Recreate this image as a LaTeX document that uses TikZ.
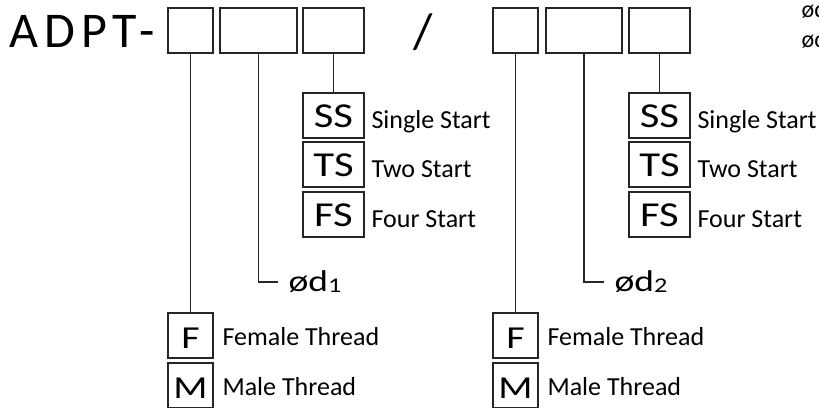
\documentclass[tikz,border=0pt]{standalone}
\usepackage{fontspec}
\setmainfont{Carlito}
\begin{document}
\begin{tikzpicture}
    [x=1pt,y=-1pt,inner sep=0pt,line width=1.1pt,
     slot/.style={draw=black!85,minimum height=45pt},
     code/.style={draw=black!85,minimum width=61pt,minimum height=45pt,text height=24pt,text depth=0pt,font=\fontsize{35}{35}\selectfont\addfontfeatures{FakeStretch=1.22}},
     kind/.style={draw=black!85,minimum width=45pt,minimum height=45pt,text height=26pt,text depth=0pt,font=\fontsize{32}{32}\selectfont\addfontfeatures{FakeStretch=1.25}},
     desc/.style={anchor=base west,font=\fontsize{26}{26}\selectfont},
     dlabel/.style={anchor=west,inner xsep=10pt,font=\fontsize{30}{30}\selectfont\addfontfeatures{FakeStretch=1.25}},
     wire/.style={draw=black!85}]
    \useasboundingbox (0,0) rectangle (819,407);
    \node (prefix) at (9,47) [anchor=base west,font=\fontsize{50}{50}\selectfont\addfontfeatures{LetterSpace=12}] {ADPT-};
    \node (slash) at (423,48) [anchor=base,font=\fontsize{50}{50}\selectfont] {/};
    % first end
    \node (gender1) at (190.5,30.5) [slot,minimum width=45pt] {};
    \node (dia1) at (258.5,30.5) [slot,minimum width=77pt] {};
    \node (start1) at (333.5,30.5) [slot,minimum width=61pt] {};
    \node (ss1) at (333.5,115.5) [code] {SS};
    \node (ts1) at (333.5,164.5) [code] {TS};
    \node (fs1) at (333.5,214.5) [code] {FS};
    \node (ssl1) at (371,128) [desc] {Single Start};
    \node (tsl1) at (371,177) [desc] {Two Start};
    \node (fsl1) at (371,227) [desc] {Four Start};
    \node (d1) at (278,282) [dlabel] {ød\raisebox{-1pt}{\fontsize{21}{21}\selectfont 1}};
    \node (f1) at (190.5,335.5) [kind] {F};
    \node (m1) at (190.5,385.5) [kind] {M};
    \node (fl1) at (222,345) [desc] {Female Thread};
    \node (ml1) at (222,395) [desc] {Male Thread};
    % second end
    \node (gender2) at (515.5,30.5) [slot,minimum width=45pt] {};
    \node (dia2) at (584,30.5) [slot,minimum width=76pt] {};
    \node (start2) at (659.5,30.5) [slot,minimum width=61pt] {};
    \node (ss2) at (659.5,115.5) [code] {SS};
    \node (ts2) at (659.5,164.5) [code] {TS};
    \node (fs2) at (659.5,214.5) [code] {FS};
    \node (ssl2) at (697,128) [desc] {Single Start};
    \node (tsl2) at (697,177) [desc] {Two Start};
    \node (fsl2) at (697,227) [desc] {Four Start};
    \node (d2) at (604,282) [dlabel] {ød\raisebox{-1pt}{\fontsize{21}{21}\selectfont 2}};
    \node (f2) at (515.5,335.5) [kind] {F};
    \node (m2) at (515.5,385.5) [kind] {M};
    \node (fl2) at (547,345) [desc] {Female Thread};
    \node (ml2) at (547,395) [desc] {Male Thread};
    % cut-off notes at the edge
    \node (note1) at (801,17) [anchor=base west,font=\fontsize{24}{24}\selectfont] {ød};
    \node (note2) at (801,47) [anchor=base west,font=\fontsize{24}{24}\selectfont] {ød};
    \draw [wire] (gender1) to (f1);
    \draw [wire] (dia1) |- (d1);
    \draw [wire] (start1) to (ss1);
    \draw [wire] (gender2) to (f2);
    \draw [wire] (dia2) |- (d2);
    \draw [wire] (start2) to (ss2);
  \end{tikzpicture}
\end{document}
